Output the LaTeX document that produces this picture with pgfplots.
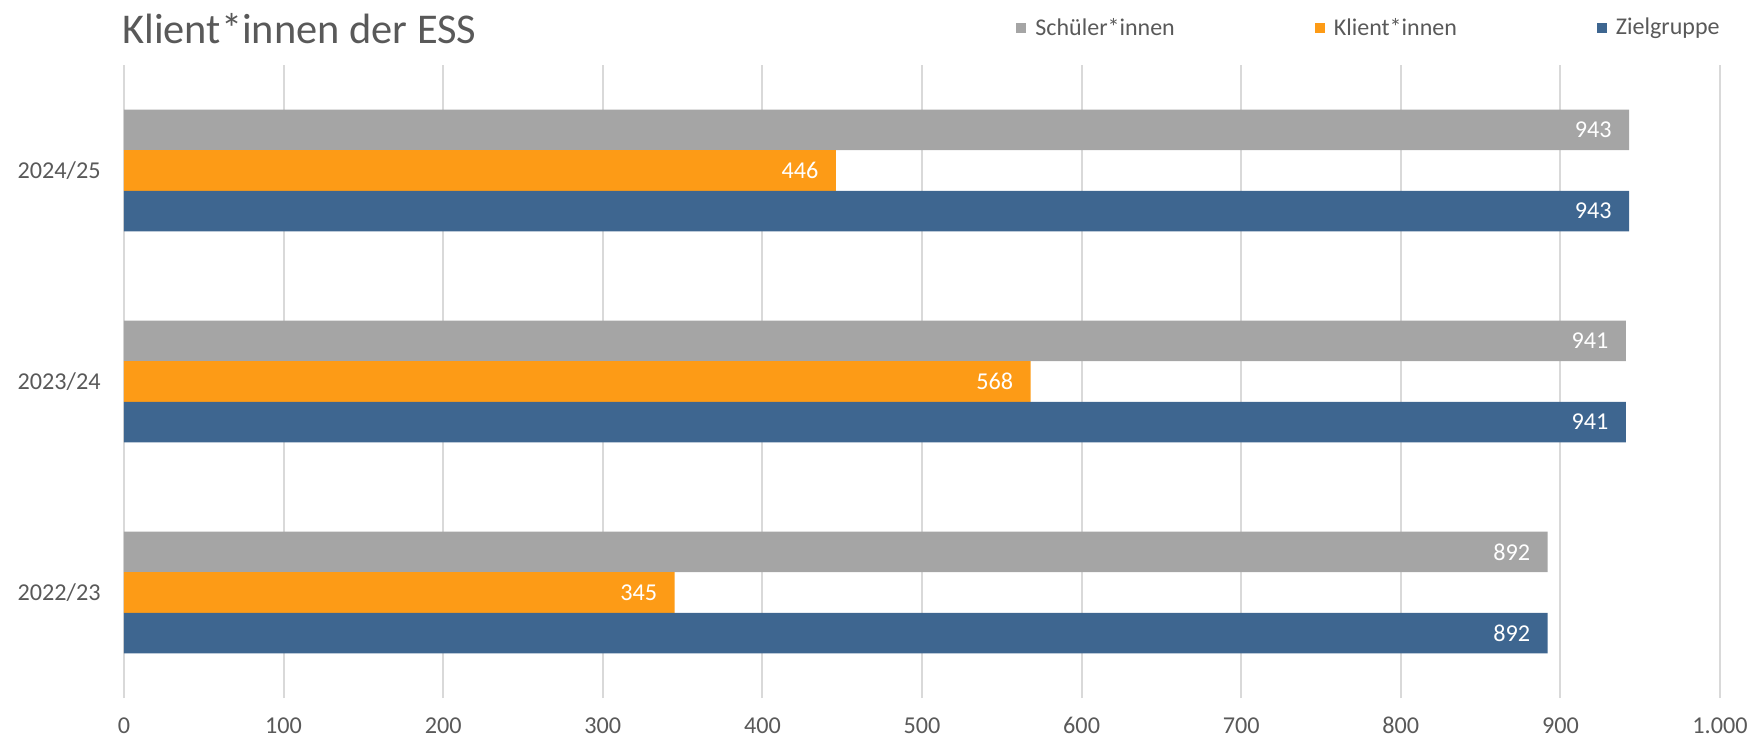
\documentclass[border=0pt]{standalone}
\usepackage{fontspec}
\setmainfont{Carlito}
\usepackage{pgfplots}
\pgfplotsset{compat=1.18}

\definecolor{txt}{HTML}{595959}
\definecolor{gridc}{HTML}{D9D9D9}
\definecolor{sgray}{HTML}{A5A5A5}
\definecolor{sorange}{HTML}{FD9B16}
\definecolor{sblue}{HTML}{3E6690}

\begin{document}
\begin{tikzpicture}
% 1 px of the reference = 0.5bp; plot area lower left = (0,0)
\path[use as bounding box] (-62bp,-21.5bp) rectangle (815.5bp,349bp);

\begin{axis}[
  at={(0,0)}, anchor=south west,
  scale only axis, width=798bp, height=316.5bp,
  xbar, bar width=0.192,
  xmin=0, xmax=1000, ymin=-0.5, ymax=2.5,
  xtick={0,100,...,1000},
  xticklabels={0,100,200,300,400,500,600,700,800,900,1.000},
  ytick={0,1,2},
  yticklabels={2022/23,2023/24,2024/25},
  axis line style={draw=none},
  major tick length=0pt,
  xmajorgrids,
  grid style={gridc, line width=1bp},
  tick label style={font=\fontsize{12.1bp}{14bp}\selectfont, text=txt, inner sep=0pt},
  xticklabel style={anchor=north, yshift=-9.5bp},
  yticklabel style={anchor=east, xshift=-11.5bp},
  /pgf/number format/assume math mode=true,
  nodes near coords,
  nodes near coords style={anchor=east, text=white, inner sep=0pt, xshift=-8.5bp,
    font=\fontsize{12.1bp}{14bp}\selectfont},
  legend columns=3,
  legend style={at={(1,1)}, anchor=east, yshift=18.5bp, draw=none, fill=none,
    inner sep=0pt, font=\fontsize{12bp}{14bp}\selectfont, text=txt,
    nodes={inner sep=0pt},
    /tikz/every odd column/.append style={column sep=4.5bp},
    /tikz/every even column/.append style={column sep=70bp}},
  legend image code/.code={\fill[#1,draw=none] (0bp,-2.5bp) rectangle (5bp,2.5bp);},
]
\addplot[fill=sgray, draw=none, bar shift=0.192] coordinates {(892,0) (941,1) (943,2)};
\addplot[fill=sorange, draw=none, bar shift=0] coordinates {(345,0) (568,1) (446,2)};
\addplot[fill=sblue, draw=none, bar shift=-0.192] coordinates {(892,0) (941,1) (943,2)};
\legend{Schüler*innen,Klient*innen,Zielgruppe}
\end{axis}

\node[anchor=base west, inner sep=0pt, text=txt, font=\fontsize{21.2bp}{25bp}\selectfont]
  at (-1bp,327bp) {Klient*innen der ESS};
\end{tikzpicture}
\end{document}
